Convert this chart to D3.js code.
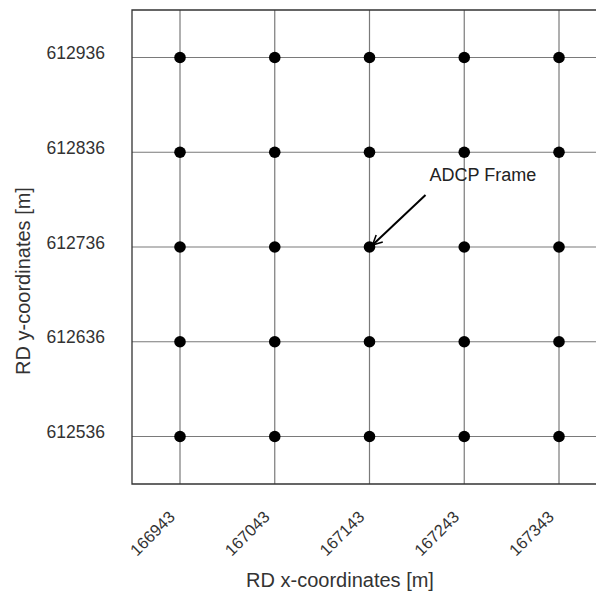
<!DOCTYPE html>
<html><head><meta charset="utf-8">
<script src="https://cdn.jsdelivr.net/npm/d3@7"></script>
<style>body{margin:0;background:#fff}svg{display:block}</style>
</head><body>
<svg id="c" width="596" height="591"></svg>
<script>
const xTicks = [166943, 167043, 167143, 167243, 167343];
const yTicks = [612536, 612636, 612736, 612836, 612936];
const pointsX = [166943, 167043, 167143, 167243, 167343];
const pointsY = [612536, 612636, 612736, 612836, 612936];
const annotText = ["ADCP Frame"];
const annotPoint = [167143, 612736];

(function(){
const svg = d3.select("#c");
const font = "'Liberation Sans', Arial, sans-serif";
const pL = 132, pT = 10, pB = 484, pR = 620;
const k = 379 / 400;
const x = d3.scaleLinear().domain([166943 - (180 - pL) / k, 166943 + (pR - 180) / k]).range([pL, pR]);
const y = d3.scaleLinear().domain([612536 - (pB - 436.5) / k, 612536 + (436.5 - pT) / k]).range([pB, pT]);

// grid
const g = svg.append("g");
g.selectAll("line.vx").data(xTicks).join("line")
  .attr("x1", d => x(d)).attr("x2", d => x(d)).attr("y1", pT).attr("y2", pB)
  .attr("stroke", "#7a7a7a").attr("stroke-width", 1.2);
g.selectAll("line.hy").data(yTicks).join("line")
  .attr("y1", d => y(d)).attr("y2", d => y(d)).attr("x1", pL).attr("x2", pR)
  .attr("stroke", "#7a7a7a").attr("stroke-width", 1.2);

// frame (left, top, bottom)
svg.append("path")
  .attr("d", `M${pR},${pT}H${pL}V${pB}H${pR}`)
  .attr("fill", "none").attr("stroke", "#333").attr("stroke-width", 1.3);

// points
const pts = [];
pointsX.forEach(px => pointsY.forEach(py => pts.push([px, py])));
svg.append("g").selectAll("circle").data(pts).join("circle")
  .attr("cx", d => x(d[0])).attr("cy", d => y(d[1])).attr("r", 5.8).attr("fill", "#000");

// y tick labels
svg.append("g").selectAll("text").data(yTicks).join("text")
  .attr("x", 105).attr("y", d => y(d) + 1.5)
  .attr("text-anchor", "end").attr("font-family", font).attr("font-size", 17.5).attr("fill", "#333")
  .text(d => d);

// x tick labels rotated
svg.append("g").selectAll("text").data(xTicks).join("text")
  .attr("transform", d => `translate(${x(d) - 4},${518}) rotate(-45)`)
  .attr("text-anchor", "end")
  .attr("font-family", font).attr("font-size", 16.5).attr("fill", "#333")
  .text(d => d);

// axis titles
svg.append("text").attr("x", 340).attr("y", 587)
  .attr("text-anchor", "middle").attr("font-family", font).attr("font-size", 20).attr("fill", "#333")
  .text("RD x-coordinates [m]");
svg.append("text").attr("transform", `translate(30,281) rotate(-90)`)
  .attr("text-anchor", "middle").attr("font-family", font).attr("font-size", 20).attr("fill", "#333")
  .text("RD y-coordinates [m]");

// annotation
svg.append("defs").append("marker").attr("id", "ah")
  .attr("viewBox", "0 0 10 10").attr("refX", 9).attr("refY", 5)
  .attr("markerWidth", 6).attr("markerHeight", 6).attr("markerUnits", "strokeWidth")
  .attr("orient", "auto")
  .append("path").attr("d", "M1,1L9,5L1,9").attr("fill", "none").attr("stroke", "#000").attr("stroke-width", 1.3);
const ax = x(annotPoint[0]), ay = y(annotPoint[1]);
svg.append("line").attr("x1", ax + 56).attr("y1", ay - 52).attr("x2", ax + 3).attr("y2", ay - 2)
  .attr("stroke", "#000").attr("stroke-width", 2).attr("marker-end", "url(#ah)");
svg.append("text").attr("x", ax + 60).attr("y", ay - 66)
  .attr("font-family", font).attr("font-size", 18).attr("fill", "#222").text(annotText[0]);
})();
</script>
</body></html>
